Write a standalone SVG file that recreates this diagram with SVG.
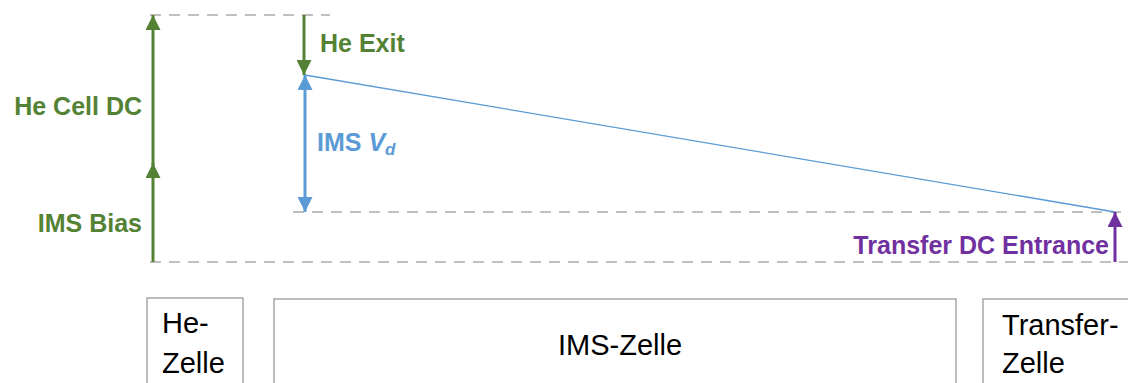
<svg xmlns="http://www.w3.org/2000/svg" width="1128" height="383" viewBox="0 0 1128 383">
<style>
.dash{stroke:#BFBFBF;stroke-width:2;stroke-dasharray:11 8;fill:none}
.g{stroke:#548235;stroke-width:3;fill:none}
.b{stroke:#5B9BD5;stroke-width:3;fill:none}
.p{stroke:#7030A0;stroke-width:3;fill:none}
.lbl{font-family:"Liberation Sans",Arial,sans-serif;font-weight:bold;font-size:25px}
.box{fill:#FFFFFF;stroke:#A6A6A6;stroke-width:1.5}
.bt{font-family:"Liberation Sans",Arial,sans-serif;font-size:29px;fill:#000000}
</style>
<defs>
<marker id="ag" markerWidth="5" markerHeight="5" refX="5" refY="2.5" orient="auto" markerUnits="strokeWidth"><path d="M0,0 L5,2.5 L0,5 Z" fill="#548235"/></marker>
<marker id="ab" markerWidth="5" markerHeight="5" refX="5" refY="2.5" orient="auto-start-reverse" markerUnits="strokeWidth"><path d="M0,0 L5,2.5 L0,5 Z" fill="#5B9BD5"/></marker>
<marker id="ap" markerWidth="5" markerHeight="5" refX="5" refY="2.5" orient="auto" markerUnits="strokeWidth"><path d="M0,0 L5,2.5 L0,5 Z" fill="#7030A0"/></marker>
</defs>
<g id="guides">
<line class="dash" x1="150" y1="15" x2="330" y2="15"/>
<line class="dash" x1="293" y1="212" x2="1128" y2="212"/>
<line class="dash" x1="150" y1="262" x2="1128" y2="262"/>
</g>
<g id="connectors">
<line class="g" x1="153" y1="262" x2="153" y2="163" marker-end="url(#ag)"/>
<line class="g" x1="153" y1="165" x2="153" y2="15" marker-end="url(#ag)"/>
<line class="g" x1="304" y1="15" x2="304" y2="75" marker-end="url(#ag)"/>
<line class="b" x1="305" y1="75" x2="305" y2="212" marker-start="url(#ab)" marker-end="url(#ab)"/>
<line x1="305" y1="75" x2="1115" y2="212" stroke="#5B9BD5" stroke-width="1.3"/>
<line class="p" x1="1115" y1="262" x2="1115" y2="212" marker-end="url(#ap)"/>
</g>
<g id="labels">
<text class="lbl" x="142" y="115" text-anchor="end" fill="#548235">He Cell DC</text>
<text class="lbl" x="142" y="232" text-anchor="end" fill="#548235">IMS Bias</text>
<text class="lbl" x="320" y="52" fill="#548235">He Exit</text>
<text class="lbl" x="317" y="151" fill="#5B9BD5">IMS <tspan font-style="italic">V</tspan><tspan font-style="italic" font-size="17px" dy="4">d</tspan></text>
<text class="lbl" x="1109" y="254" text-anchor="end" fill="#7030A0">Transfer DC Entrance</text>
</g>
<g id="he-zelle">
<rect class="box" x="147" y="298" width="96" height="100"/>
<text class="bt" x="162" y="333">He-</text>
<text class="bt" x="162" y="373">Zelle</text>
</g>
<g id="ims-zelle">
<rect class="box" x="274" y="299" width="682" height="100"/>
<text class="bt" x="620" y="355" text-anchor="middle">IMS-Zelle</text>
</g>
<g id="transfer-zelle">
<rect class="box" x="983" y="299" width="160" height="100"/>
<text class="bt" x="1002" y="335">Transfer-</text>
<text class="bt" x="1002" y="373">Zelle</text>
</g>
</svg>
